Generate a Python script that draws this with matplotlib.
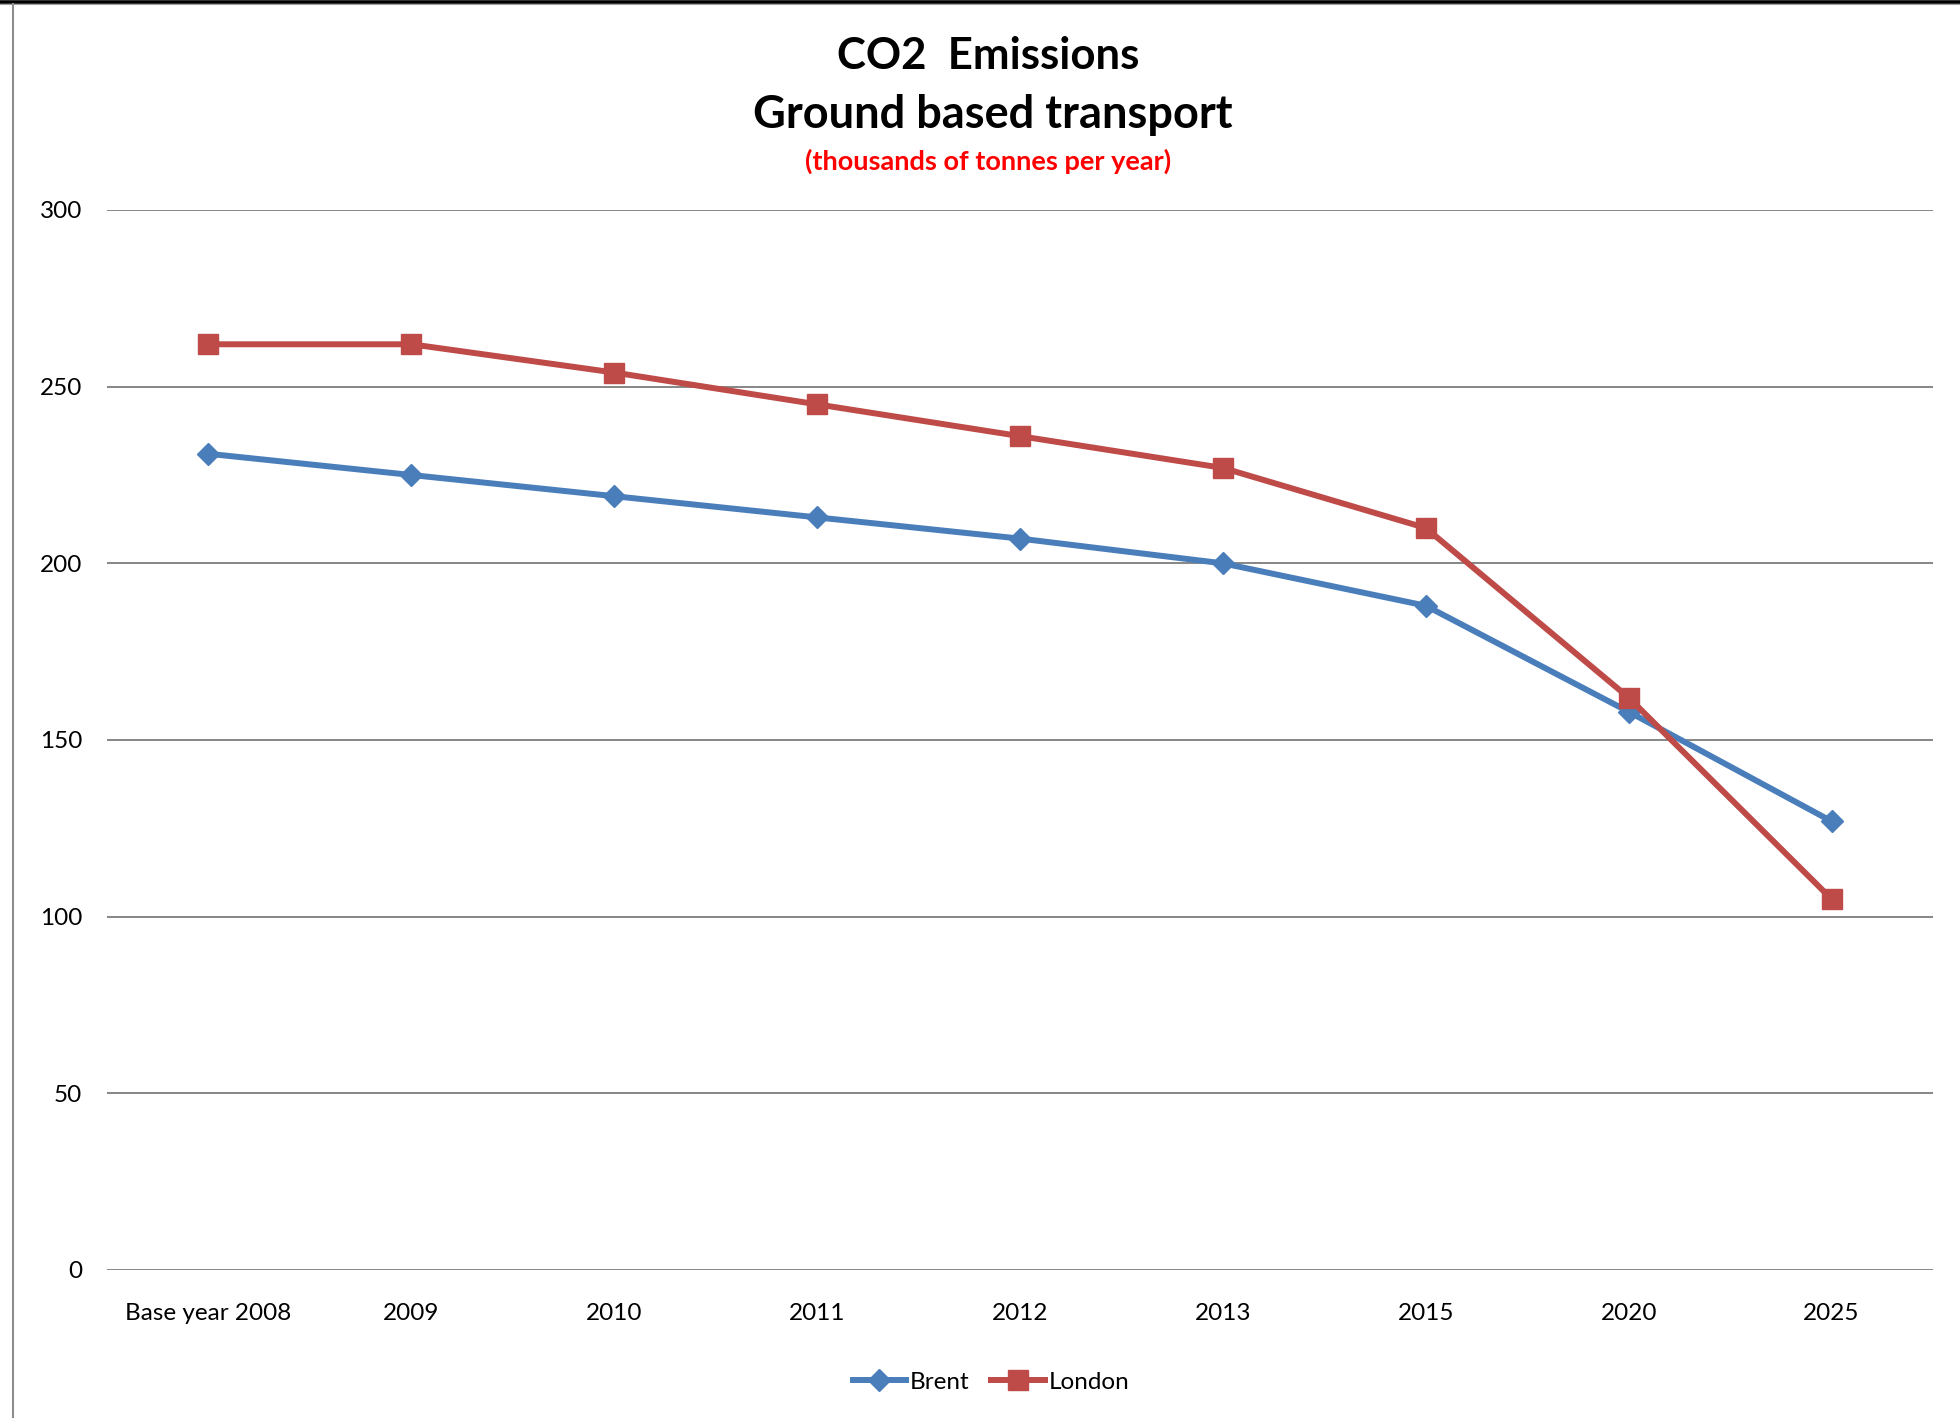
import matplotlib
matplotlib.use("Agg")
import matplotlib.pyplot as plt
from matplotlib.lines import Line2D

plt.rcParams['font.family'] = ['Lato', 'DejaVu Sans']

# Data (thousands of tonnes of CO2 per year)
categories = ["Base year 2008", "2009", "2010", "2011", "2012", "2013", "2015", "2020", "2025"]
brent = [231, 225, 219, 213, 207, 200, 188, 158, 127]
london = [262, 262, 254, 245, 236, 227, 210, 162, 105]
y_ticks = [0, 50, 100, 150, 200, 250, 300]

W, H = 1960, 1418
fig = plt.figure(figsize=(W / 100, H / 100), dpi=100)
fig.patch.set_facecolor("white")

# Plot area in pixel coordinates
left, right, top, bottom = 107, 1933, 210, 1270
ax = fig.add_axes([left / W, (H - bottom) / H, (right - left) / W, (bottom - top) / H])

blue = "#4A7EBB"
red = "#BE4B48"
x = list(range(len(categories)))

ax.plot(x, brent, color=blue, lw=4.3, marker="D", markersize=11,
        markeredgecolor=blue, markerfacecolor=blue, label="Brent", zorder=3)
ax.plot(x, london, color=red, lw=4.3, marker="s", markersize=14,
        markeredgecolor=red, markerfacecolor=red, label="London", zorder=3)

ax.set_xlim(-0.5, len(categories) - 0.5)
ax.set_ylim(0, 300)
ax.set_yticks(y_ticks)
ax.set_yticklabels([str(v) for v in y_ticks], fontsize=17.5)
ax.set_xticks(x)
ax.set_xticklabels(categories, fontsize=17.5)
ax.tick_params(axis="both", length=0)
ax.tick_params(axis="y", pad=18)
ax.tick_params(axis="x", pad=24)

ax.grid(axis="y", color="#868686", lw=1.4)
ax.set_axisbelow(True)
for s in ax.spines.values():
    s.set_visible(False)

# Titles
fig.text(988 / W, 1 - 56 / H, "CO2  Emissions", ha="center", va="center",
         fontsize=31.5, fontweight="bold", color="black")
fig.text(993 / W, 1 - 115 / H, "Ground based transport", ha="center", va="center",
         fontsize=32.5, fontweight="bold", color="black")
fig.text(988 / W, 1 - 161 / H, "(thousands of tonnes per year)", ha="center", va="center",
         fontsize=19.5, fontweight="bold", color="#FF0000")

# Legend
fig.legend(loc="center", bbox_to_anchor=(991 / W, 1 - 1382 / H), ncol=2, frameon=False,
           fontsize=17.5, handlelength=2.2, handletextpad=0.15, columnspacing=0.9)

# Frame edges
fig.add_artist(Line2D([0, 1], [1 - 1.5 / H, 1 - 1.5 / H], color="black", lw=2.6))
fig.add_artist(Line2D([0, 1], [1 - 4 / H, 1 - 4 / H], color="#A0A0A0", lw=0.8))
fig.add_artist(Line2D([13 / W, 13 / W], [0, 1 - 4 / H], color="#8C8C8C", lw=1.5))

fig.savefig("out.png", dpi=100, facecolor="white")
